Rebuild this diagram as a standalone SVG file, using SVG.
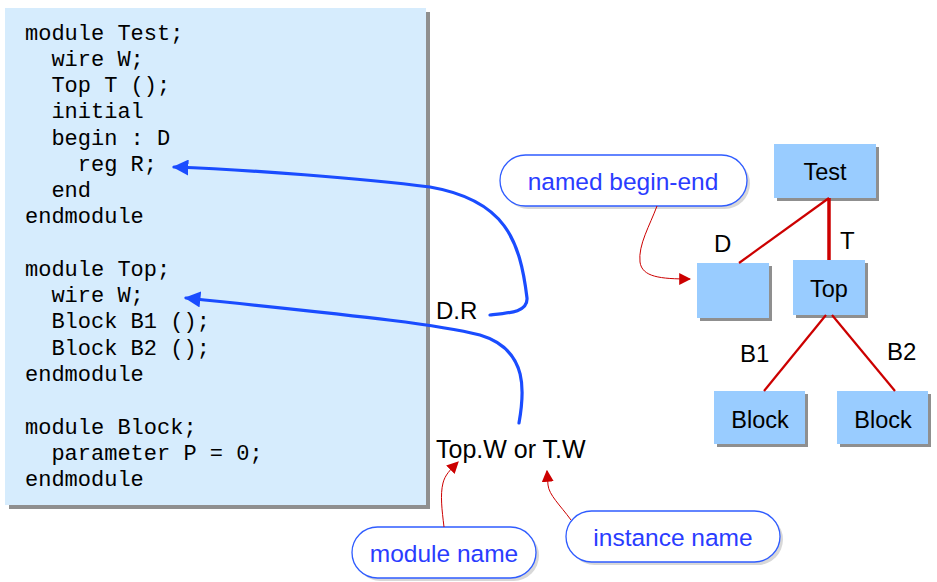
<svg xmlns="http://www.w3.org/2000/svg" width="937" height="582" viewBox="0 0 937 582">
<defs>
<marker id="bh" viewBox="0 0 10 10" refX="9" refY="5" markerWidth="5" markerHeight="5" orient="auto-start-reverse" markerUnits="strokeWidth"><path d="M0,0 L10,5 L0,10 z" fill="#1a4cff"/></marker>
<marker id="rh" viewBox="0 0 10 10" refX="9" refY="5" markerWidth="12" markerHeight="12" orient="auto" markerUnits="userSpaceOnUse"><path d="M0,0 L10,5 L0,10 z" fill="#cc0000"/></marker>
</defs>
<style>
.code{font-family:"Liberation Mono","Courier New",monospace;font-size:22px;fill:#000;white-space:pre}
.lbl{font-family:"Liberation Sans",Arial,sans-serif;font-size:24px;fill:#000}
.node{fill:#99ccff}
.shd{fill:#8f8f8f}
.nt{font-family:"Liberation Sans",Arial,sans-serif;font-size:23.5px;fill:#000;text-anchor:middle}
.pill{fill:#fff;stroke:#2f5cff;stroke-width:1.3}
.pshd{fill:#d8d8d8}
.pt{font-family:"Liberation Sans",Arial,sans-serif;font-size:24.5px;fill:#2a3cff;text-anchor:middle}
.blue{fill:none;stroke:#1a4cff;stroke-width:3.2;stroke-linecap:round}
.red{fill:none;stroke:#cc0000;stroke-width:1}
.tree{stroke:#cc0000;stroke-width:2.2}
</style>
<rect width="937" height="582" fill="#fff"/>
<g id="code" xml:space="preserve">
<rect x="9" y="12" width="421" height="497" class="shd"/>
<rect x="5" y="8" width="421" height="497" fill="#d6ecfd"/>
<text class="code" x="25" y="40">module Test;</text>
<text class="code" x="25" y="66">  wire W;</text>
<text class="code" x="25" y="92">  Top T ();</text>
<text class="code" x="25" y="118">  initial</text>
<text class="code" x="25" y="145">  begin : D</text>
<text class="code" x="25" y="171">    reg R;</text>
<text class="code" x="25" y="197">  end</text>
<text class="code" x="25" y="223">endmodule</text>
<text class="code" x="25" y="276">module Top;</text>
<text class="code" x="25" y="302">  wire W;</text>
<text class="code" x="25" y="328">  Block B1 ();</text>
<text class="code" x="25" y="355">  Block B2 ();</text>
<text class="code" x="25" y="381">endmodule</text>
<text class="code" x="25" y="434">module Block;</text>
<text class="code" x="25" y="460">  parameter P = 0;</text>
<text class="code" x="25" y="486">endmodule</text>
</g>
<g id="labels">
<text class="lbl" x="436" y="319">D.R</text>
<text class="lbl" x="436" y="458" style="font-size:25px">Top.W or T.W</text>
</g>
<g id="callout-named">
<rect x="503" y="158" width="247" height="51" rx="25.5" class="pshd"/>
<rect x="500" y="155" width="247" height="51" rx="25.5" class="pill"/>
<text class="pt" x="623" y="190">named begin-end</text>
</g>
<g id="callout-module">
<rect x="355" y="530" width="184" height="51" rx="25.5" class="pshd"/>
<rect x="352" y="527" width="184" height="51" rx="25.5" class="pill"/>
<text class="pt" x="444" y="562">module name</text>
</g>
<g id="callout-instance">
<rect x="569" y="514" width="214" height="51" rx="25.5" class="pshd"/>
<rect x="566" y="511" width="214" height="51" rx="25.5" class="pill"/>
<text class="pt" x="673" y="546">instance name</text>
</g>
<g id="node-test">
<rect x="777" y="147" width="102" height="54" class="shd"/>
<rect x="774" y="144" width="102" height="54" class="node"/>
<text class="nt" x="825" y="180">Test</text>
</g>
<g id="node-d">
<rect x="700" y="266" width="72" height="55" class="shd"/>
<rect x="697" y="263" width="72" height="55" class="node"/>
</g>
<g id="node-top">
<rect x="796" y="263" width="72" height="55" class="shd"/>
<rect x="793" y="260" width="72" height="55" class="node"/>
<text class="nt" x="829" y="297">Top</text>
</g>
<g id="node-block1">
<rect x="717" y="394" width="91" height="53" class="shd"/>
<rect x="714" y="391" width="91" height="53" class="node"/>
<text class="nt" x="760" y="428">Block</text>
</g>
<g id="node-block2">
<rect x="840" y="394" width="91" height="53" class="shd"/>
<rect x="837" y="391" width="91" height="53" class="node"/>
<text class="nt" x="883" y="428">Block</text>
</g>
<g id="tree-labels">
<text class="lbl" x="714" y="252">D</text>
<text class="lbl" x="840" y="249">T</text>
<text class="lbl" x="740" y="362">B1</text>
<text class="lbl" x="887" y="360">B2</text>
</g>
<g id="connectors">
<line class="tree" x1="829" y1="198" x2="739" y2="263"/>
<line class="tree" x1="829" y1="198" x2="829" y2="260" style="stroke-width:3.5"/>
<line class="tree" x1="826" y1="315" x2="764" y2="391"/>
<line class="tree" x1="832" y1="315" x2="895" y2="391"/>
<path class="blue" d="M490,315 C510,313 528,312 527,298 C520,240 505,200 430,187 C360,178 250,170 174,167" marker-end="url(#bh)"/>
<path class="blue" d="M519,423 C524,395 530,350 480,335 C440,325 380,318 186,298" marker-end="url(#bh)"/>
<path class="red" d="M657,206 C650,225 638,245 640,262 C642,277 660,279 690,279" marker-end="url(#rh)"/>
<path class="red" d="M444,527 C442,510 440,495 443,483 C445,475 450,470 458,462" marker-end="url(#rh)"/>
<path class="red" d="M571,520 C560,505 549,495 548,485 L547,471" marker-end="url(#rh)"/>
</g>
</svg>
